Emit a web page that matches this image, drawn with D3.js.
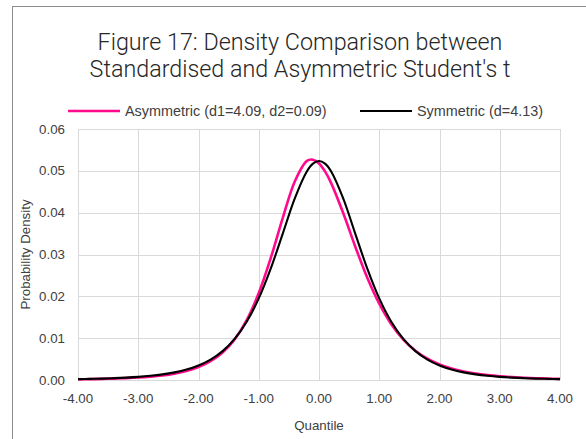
<!DOCTYPE html>
<html>
<head>
<meta charset="utf-8">
<script src="https://cdn.jsdelivr.net/npm/d3@7"></script>
<style>
  body { margin: 0; background: #fff; }
  text { font-family: "Liberation Sans", Arial, sans-serif; }
</style>
</head>
<body>
<script>
// données
const quantiles = [-4.0, -3.8, -3.6, -3.4, -3.2, -3.0, -2.8, -2.6, -2.4, -2.2, -2.0,
  -1.8, -1.6, -1.4, -1.2, -1.0, -0.8, -0.6, -0.4, -0.2, -0.1, 0.0, 0.1, 0.2, 0.4,
  0.6, 0.8, 1.0, 1.2, 1.4, 1.6, 1.8, 2.0, 2.2, 2.4, 2.6, 2.8, 3.0, 3.2, 3.4, 3.6, 3.8, 4.0];

const asymmetric = [0.00016, 0.00020, 0.00026, 0.00034, 0.00044, 0.00059, 0.00080, 0.00109,
  0.00152, 0.00215, 0.00308, 0.00448, 0.00657, 0.00971, 0.01431, 0.02078, 0.02921, 0.03881,
  0.04752, 0.05238, 0.05266, 0.05176, 0.04987, 0.04713, 0.03997, 0.03197, 0.02449, 0.01823,
  0.01332, 0.00966, 0.00700, 0.00509, 0.00372, 0.00274, 0.00204, 0.00154, 0.00117, 0.00090,
  0.00070, 0.00055, 0.00043, 0.00034, 0.00028];

const symmetric = [0.00022, 0.00027, 0.00034, 0.00044, 0.00057, 0.00075, 0.00100, 0.00134,
  0.00182, 0.00250, 0.00348, 0.00488, 0.00691, 0.00982, 0.01392, 0.01950, 0.02668, 0.03506,
  0.04347, 0.04990, 0.05172, 0.05234, 0.05172, 0.04990, 0.04347, 0.03506, 0.02668, 0.01950,
  0.01392, 0.00982, 0.00691, 0.00488, 0.00348, 0.00250, 0.00182, 0.00134, 0.00100, 0.00075,
  0.00057, 0.00044, 0.00034, 0.00027, 0.00022];

const xTicks = [-4, -3, -2, -1, 0, 1, 2, 3, 4];
const yTicks = [0, 0.01, 0.02, 0.03, 0.04, 0.05, 0.06];
const titleLines = ["Figure 17: Density Comparison between", "Standardised and Asymmetric Student's t"];
const seriesNames = ["Asymmetric (d1=4.09, d2=0.09)", "Symmetric (d=4.13)"];
const seriesColors = ["#ff0a8c", "#000000"];

// format avec le tiret simple, comme Excel
const formater = d => d.toFixed(2);

// canevas
const W = 586, H = 439;
const svg = d3.select('body').append('svg')
  .attr('width', W)
  .attr('height', H);

// cadre du graphique
svg.append('rect')
  .attr('x', 12.5).attr('y', 6.5)
  .attr('width', 700).attr('height', 600)
  .attr('fill', '#fff')
  .attr('stroke', '#8c8c8c')
  .attr('stroke-width', 1);

// échelles
const x = d3.scaleLinear().domain([-4, 4]).range([78, 560]);
const y = d3.scaleLinear().domain([0, 0.06]).range([380, 129]);

// grille
svg.append('g').selectAll('line')
  .data(xTicks)
  .join('line')
  .attr('x1', d => Math.round(x(d)) + 0.5).attr('x2', d => Math.round(x(d)) + 0.5)
  .attr('y1', y(0.06)).attr('y2', y(0))
  .attr('stroke', '#d9d9d9');
svg.append('g').selectAll('line')
  .data(yTicks)
  .join('line')
  .attr('x1', x(-4)).attr('x2', x(4))
  .attr('y1', d => Math.round(y(d)) + 0.5).attr('y2', d => Math.round(y(d)) + 0.5)
  .attr('stroke', '#d9d9d9');

// étiquettes des axes
svg.append('g').selectAll('text')
  .data(xTicks)
  .join('text')
  .attr('x', d => x(d))
  .attr('y', 403)
  .attr('text-anchor', 'middle')
  .attr('font-size', 13.3)
  .attr('fill', '#404040')
  .text(formater);
svg.append('g').selectAll('text')
  .data(yTicks)
  .join('text')
  .attr('x', 65)
  .attr('y', d => y(d) + 4.5)
  .attr('text-anchor', 'end')
  .attr('font-size', 13.3)
  .attr('fill', '#404040')
  .text(formater);

// titres des axes
svg.append('text')
  .attr('x', x(0)).attr('y', 430)
  .attr('text-anchor', 'middle')
  .attr('font-size', 13.3)
  .attr('fill', '#404040')
  .text('Quantile');
svg.append('text')
  .attr('transform', `translate(30,${(y(0) + y(0.06)) / 2}) rotate(-90)`)
  .attr('text-anchor', 'middle')
  .attr('font-size', 13.3)
  .attr('fill', '#404040')
  .text('Probability Density');

// courbes
const series = [asymmetric, symmetric];
const genererLigne = d3.line()
  .x((d, i) => x(quantiles[i]))
  .y(d => y(d))
  .curve(d3.curveCatmullRom);
svg.append('g').selectAll('path')
  .data(series)
  .join('path')
  .attr('d', genererLigne)
  .attr('fill', 'none')
  .attr('stroke', (d, i) => seriesColors[i])
  .attr('stroke-width', (d, i) => i === 0 ? 2.6 : 2.1)
  .attr('stroke-linejoin', 'round');

// légende
const legendX = [68, 360];
const legende = svg.append('g').selectAll('g')
  .data(seriesNames)
  .join('g')
  .attr('transform', (d, i) => `translate(${legendX[i]},111)`);
legende.append('line')
  .attr('x1', 0).attr('x2', 52)
  .attr('stroke', (d, i) => seriesColors[i])
  .attr('stroke-width', (d, i) => i === 0 ? 2.6 : 2.1);
legende.append('text')
  .attr('x', 57).attr('y', 5)
  .attr('font-size', 14.4)
  .attr('fill', '#404040')
  .text(d => d);

// titre
const titre = svg.append('g').selectAll('text')
  .data(titleLines)
  .join('text')
  .attr('x', 300)
  .attr('y', (d, i) => 50 + i * 27)
  .attr('text-anchor', 'middle')
  .attr('font-size', 22.5)
  .attr('fill', '#262626')
  .style('font-family', 'Roboto, "Liberation Sans", sans-serif')
  .style('font-weight', 300)
  .text(d => d);
// ajuster la taille pour la largeur de la première ligne
const largeur = titre.node().getComputedTextLength();
titre.attr('font-size', 22.5 * 405 / largeur);
</script>
</body>
</html>
